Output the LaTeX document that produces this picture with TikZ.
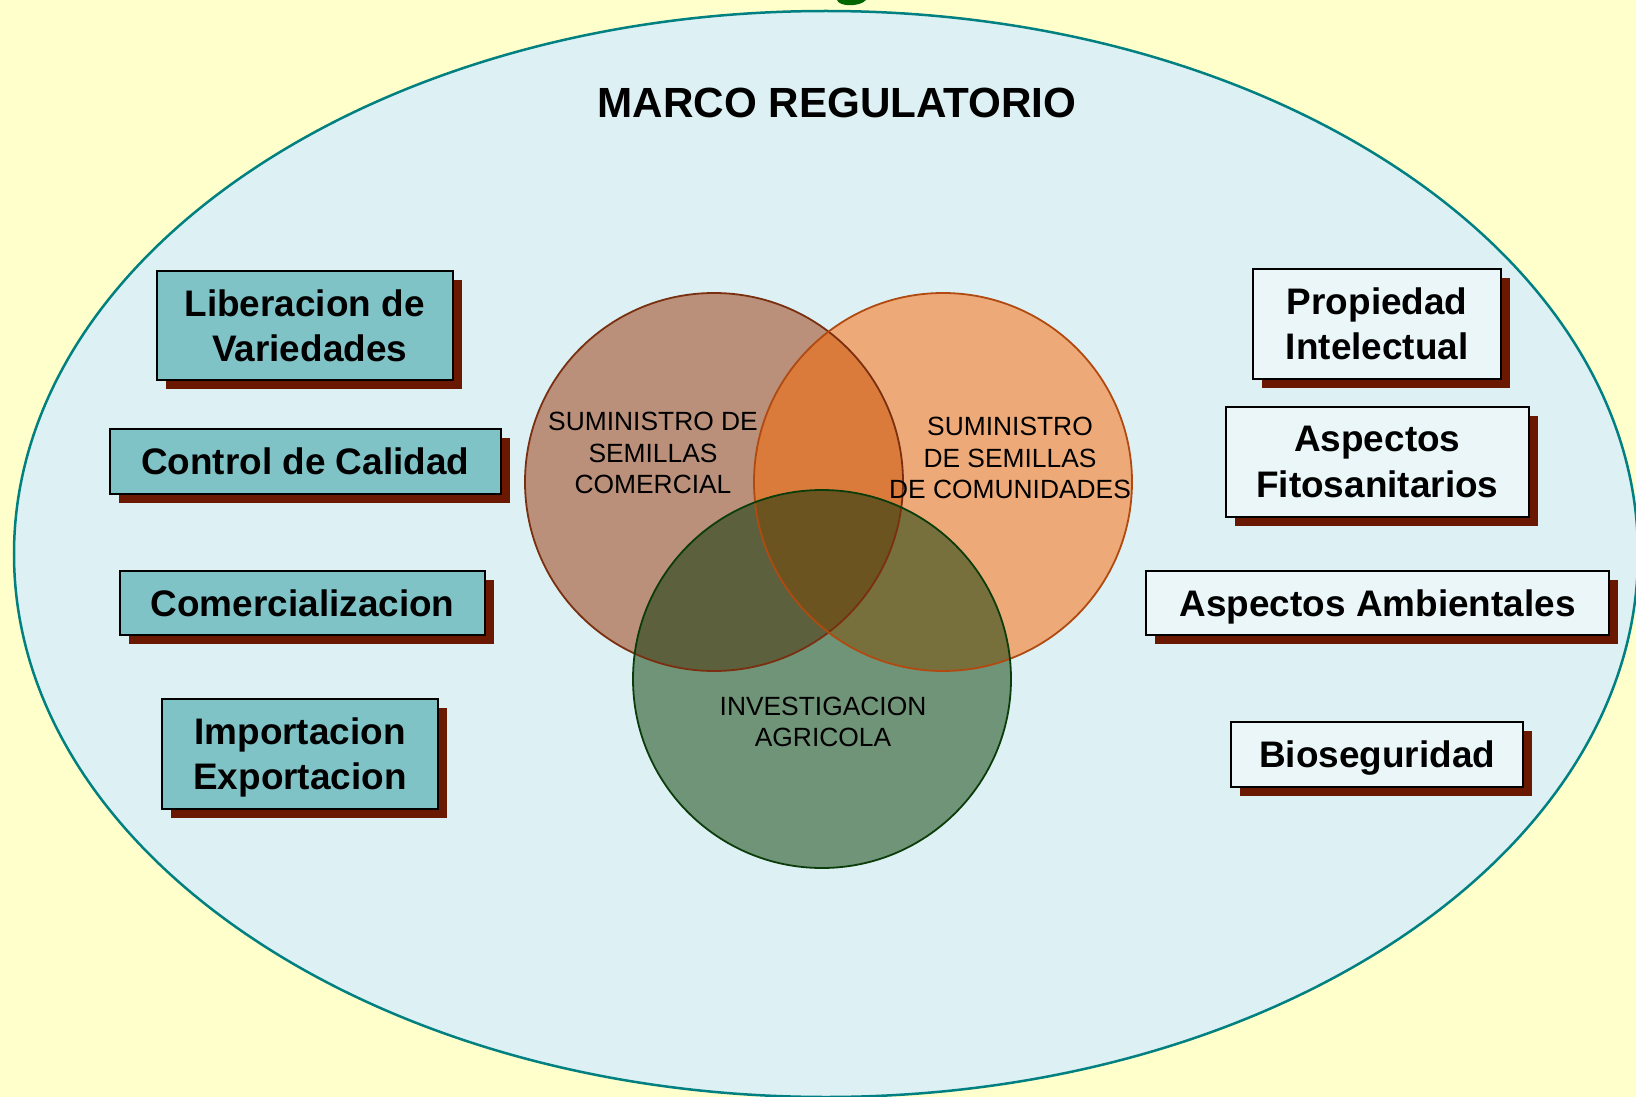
\documentclass[tikz,border=0pt]{standalone}
\usepackage{fontspec}
\setmainfont{Liberation Sans}
\usetikzlibrary{shadows}
\definecolor{bgyellow}{HTML}{FFFFCC}
\definecolor{ellfill}{HTML}{DDF0F3}
\definecolor{ellline}{HTML}{008080}
\definecolor{tealfill}{HTML}{7FC3C7}
\definecolor{lightfill}{HTML}{EAF6F8}
\definecolor{shadowred}{HTML}{6B1800}
\definecolor{cLc}{HTML}{BA907A}
\definecolor{cRc}{HTML}{EEA978}
\definecolor{cLRc}{HTML}{DA7B3C}
\definecolor{cGc}{HTML}{709478}
\definecolor{cLGc}{HTML}{5C603C}
\definecolor{cRGc}{HTML}{78703C}
\definecolor{cLRGc}{HTML}{6C5420}
\definecolor{lineL}{HTML}{7A3010}
\definecolor{lineR}{HTML}{B04A10}
\definecolor{lineG}{HTML}{0B3D0B}
\definecolor{titlegreen}{HTML}{006600}
\begin{document}
\begin{tikzpicture}[x=0.01cm,y=-0.01cm,
  boxbase/.style={draw=black, line width=0.02cm, inner sep=0pt, align=center,
    text depth=0pt,
    font=\bfseries\fontsize{10.5}{12.8}\selectfont,
    general shadow={fill=shadowred, shadow xshift=0.09cm, shadow yshift=-0.09cm}},
  tealbox/.style={boxbase, fill=tealfill},
  lightbox/.style={boxbase, fill=lightfill},
  circtext/.style={align=center, inner sep=0pt, font=\fontsize{7.5}{8.9}\selectfont}]
\useasboundingbox (0,0) rectangle (1636,1097);
\fill[bgyellow] (0,0) rectangle (1636,1097);
\begin{scope}
\clip (0,0) rectangle (1636,1097);
\fill[titlegreen] (837,0) .. controls (839,7) and (860,7) .. (866,0) -- cycle;
\filldraw[fill=ellfill, draw=ellline, line width=0.025cm] (826,554) ellipse [x radius=812, y radius=543];
\end{scope}
% title
\node[font=\bfseries\fontsize{12}{14}\selectfont, inner sep=0pt] (title) at (837,103) {MARCO REGULATORIO};
% circles
\coordinate (cL) at (714,482);
\coordinate (cR) at (943,482);
\coordinate (cG) at (822,679);
\fill[cLc] (cL) circle[radius=189];
\fill[cRc] (cR) circle[radius=189];
\begin{scope}
\clip (cL) circle[radius=189];
\fill[cLRc] (cR) circle[radius=189];
\end{scope}
\fill[cGc] (cG) circle[radius=189];
\begin{scope}
\clip (cG) circle[radius=189];
\fill[cLGc] (cL) circle[radius=189];
\fill[cRGc] (cR) circle[radius=189];
\clip (cL) circle[radius=189];
\fill[cLRGc] (cR) circle[radius=189];
\end{scope}
\draw[lineL, line width=0.018cm] (cL) circle[radius=189];
\draw[lineR, line width=0.018cm] (cR) circle[radius=189];
\draw[lineG, line width=0.018cm] (cG) circle[radius=189];
\node[circtext] (tL) at (653,453) {SUMINISTRO DE\\SEMILLAS\\COMERCIAL};
\node[circtext] (tR) at (1010,458) {SUMINISTRO\\DE SEMILLAS\\DE COMUNIDADES};
\node[circtext] (tG) at (823,722) {INVESTIGACION\\AGRICOLA};
% left boxes
\node[tealbox, minimum width=2.96cm, minimum height=1.085cm] (lib) at (304.6,325.5) {Liberacion de\\ \ Variedades};
\node[tealbox, minimum width=3.91cm, minimum height=0.647cm] (ctrl) at (305.2,461.2) {Control de Calidad};
\node[tealbox, minimum width=3.65cm, minimum height=0.647cm] (com) at (302.6,603) {Comercializacion};
\node[tealbox, minimum width=2.765cm, minimum height=1.096cm] (imp) at (300,753.8) {Importacion\\Exportacion};
% right boxes
\node[lightbox, minimum width=2.484cm, minimum height=1.096cm] (prop) at (1377.2,324) {Propiedad\\Intelectual};
\node[lightbox, minimum width=3.026cm, minimum height=1.095cm] (fito) at (1377.3,461.8) {Aspectos\\Fitosanitarios};
\node[lightbox, minimum width=4.62cm, minimum height=0.645cm] (amb) at (1377.6,603.2) {Aspectos Ambientales};
\node[lightbox, minimum width=2.923cm, minimum height=0.647cm] (bio) at (1377.2,754.4) {Bioseguridad};
\end{tikzpicture}
\end{document}
